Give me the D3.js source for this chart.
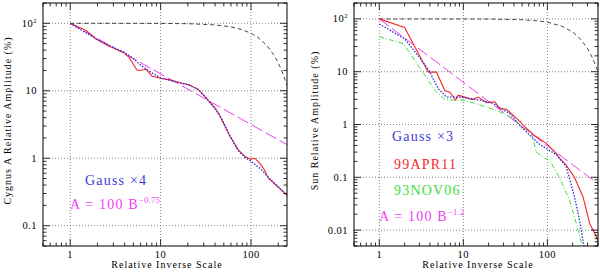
<!DOCTYPE html>
<html>
<head>
<meta charset="utf-8">
<script src="https://cdn.jsdelivr.net/npm/d3@7"></script>
<style>
  body { margin: 0; background: #fff; }
  svg { display: block; }
  text { font-family: "Liberation Serif", "DejaVu Serif", serif; }
</style>
</head>
<body>
<svg id="chart" width="600" height="274"></svg>
<script>
// ---- left panel: Cygnus A ----
const cyg_data_B = [1, 1.5, 1.89, 2.5, 3, 3.88, 4.5, 5.46, 5.9, 6.9, 8, 9.9, 12.7, 16, 21, 26, 32, 40, 45, 52, 58.6, 63, 72.4, 86, 98, 110, 125, 140, 155, 192, 238, 250];
const cyg_data_A = [100, 78, 60, 48, 43, 37, 31, 20.3, 20, 20.8, 16.6, 15.3, 14.5, 13.3, 12.2, 10.5, 7.8, 5.6, 4.3, 2.9, 2.1, 1.8, 1.33, 1.06, 0.97, 1.0, 0.84, 0.68, 0.51, 0.39, 0.30, 0.29];
const cyg_gauss_B = [1, 2, 3, 4, 5, 6, 8, 10, 15, 20, 26, 32, 45, 58, 72, 86, 100, 130, 160, 200, 250];
const cyg_gauss_A = [100, 57, 44, 37, 30, 24, 18.5, 15.5, 13.5, 12.3, 10.5, 7.8, 4.4, 2.2, 1.3, 1.02, 0.9, 0.68, 0.5, 0.38, 0.28];
const cyg_beam_B = [1, 10, 20, 40, 60, 80, 100, 120, 150, 180, 200, 220, 250];
const cyg_beam_A = [100, 99.7, 98.7, 94.7, 88.5, 80.5, 71, 61.5, 46.8, 33.5, 25.9, 19.5, 12];
const cyg_power_B = [1, 250];
const cyg_power_A = [100, 1.59];

// ---- right panel: Sun ----
const sun_apr_B = [1, 2, 3.83, 4.8, 6, 6.9, 8.1, 8.7, 10.4, 13, 15, 18.9, 23.7, 27, 32.6, 39, 46.8, 56, 70, 97, 128, 139, 167, 210, 265, 318, 380, 400];
const sun_apr_A = [100, 69, 9.8, 9.8, 4.4, 4.1, 2.9, 3.6, 3.3, 2.96, 3.3, 2.6, 2.7, 2.0, 1.95, 1.5, 1.15, 0.85, 0.62, 0.44, 0.28, 0.23, 0.17, 0.10, 0.043, 0.0135, 0.0076, 0.006];
const sun_nov_B = [1, 1.93, 3.19, 4.6, 6, 7.6, 10, 14, 18.7, 27, 39, 42.8, 51, 64, 74, 92.6, 106, 139, 184, 220, 254, 275];
const sun_nov_A = [46, 34, 10.6, 4.4, 3.0, 2.9, 2.9, 2.5, 2.15, 1.73, 1.3, 1.12, 0.84, 0.72, 0.30, 0.23, 0.21, 0.10, 0.037, 0.0135, 0.0057, 0.004];
const sun_gauss_B = [1, 2, 3, 4, 5, 6.3, 9, 15.7, 22.6, 35.7, 46.8, 61.6, 81, 100, 128, 167, 210, 240, 268, 285];
const sun_gauss_A = [80, 42, 18.8, 9.8, 4.8, 3.3, 3.3, 2.9, 2.5, 1.61, 0.97, 0.63, 0.42, 0.34, 0.27, 0.16, 0.043, 0.016, 0.0057, 0.004];
const sun_beam_B = [1, 20, 50, 80, 100, 150, 200, 250, 300, 350, 400];
const sun_beam_A = [100, 99.4, 96.5, 91.2, 86.6, 72.4, 56.3, 40.8, 27.5, 17.2, 10];
const sun_power_B = [1, 400];
const sun_power_A = [100, 0.075];

// ---- tick labels ----
const x_tick_values = [1, 10, 100];
const x_tick_labels = ["1", "10", "100"];
const cyg_y_tick_values = [100, 10, 1, 0.1];
const sun_y_tick_values = [100, 10, 1, 0.1, 0.01];
const y_tick_labels = {100: ["10", "2"], 10: ["10"], 1: ["1"], 0.1: ["0.1"], 0.01: ["0.01"]};

const COLORS = {
  red: "#f5262b",
  blue: "#2c2ed8",
  green: "#3ee03e",
  magenta: "#f03cf0",
  black: "#333"
};

const zip = (xs, ys) => xs.map((x, i) => [x, ys[i]]);

function draw_panel(svg, cfg) {
  const g = svg.append("g").classed("panel", true);
  const x = d3.scaleLog().domain(cfg.x_domain).range([cfg.left, cfg.right]);
  const y = d3.scaleLog().domain(cfg.y_domain).range([cfg.bottom, cfg.top]);

  const clip_id = `clip-${cfg.name}`;
  g.append("clipPath").attr("id", clip_id)
    .append("rect")
      .attr("x", cfg.left).attr("y", cfg.top)
      .attr("width", cfg.right - cfg.left).attr("height", cfg.bottom - cfg.top);

  // grid
  g.selectAll("line.xgrid")
    .data(x_tick_values)
    .join("line")
      .classed("xgrid", true)
      .attr("x1", d => x(d)).attr("x2", d => x(d))
      .attr("y1", cfg.top).attr("y2", cfg.bottom)
      .attr("stroke", "#666").attr("stroke-width", 0.8)
      .attr("stroke-dasharray", "1,2");
  g.selectAll("line.ygrid")
    .data(cfg.y_ticks)
    .join("line")
      .classed("ygrid", true)
      .attr("y1", d => y(d)).attr("y2", d => y(d))
      .attr("x1", cfg.left).attr("x2", cfg.right)
      .attr("stroke", "#666").attr("stroke-width", 0.8)
      .attr("stroke-dasharray", "1,2");

  // curves
  const line = d3.line().x(d => x(d[0])).y(d => y(d[1]));
  const curves = g.append("g").attr("clip-path", `url(#${clip_id})`);
  curves.selectAll("path")
    .data(cfg.series)
    .join("path")
      .attr("d", d => line(d.points))
      .attr("fill", "none")
      .attr("stroke", d => d.color)
      .attr("stroke-width", d => d.width || 1)
      .attr("stroke-dasharray", d => d.dash || null);

  // frame
  g.append("rect")
    .attr("x", cfg.left).attr("y", cfg.top)
    .attr("width", cfg.right - cfg.left).attr("height", cfg.bottom - cfg.top)
    .attr("fill", "none").attr("stroke", "#000").attr("stroke-width", 1);

  // inward ticks on all sides
  const is_major = v => Math.abs(Math.log10(v) - Math.round(Math.log10(v))) < 1e-6;
  const xt = x.ticks().filter(v => v >= cfg.x_domain[0] && v <= cfg.x_domain[1]);
  const yt = y.ticks().filter(v => v >= cfg.y_domain[0] && v <= cfg.y_domain[1]);
  const ticks = g.append("g").attr("stroke", "#000").attr("stroke-width", 0.8);
  for (const [yy, dir] of [[cfg.bottom, -1], [cfg.top, 1]]) {
    ticks.selectAll(null)
      .data(xt)
      .join("line")
        .attr("x1", d => x(d)).attr("x2", d => x(d))
        .attr("y1", yy).attr("y2", d => yy + dir * (is_major(d) ? 7 : 3.5));
  }
  for (const [xx, dir] of [[cfg.left, 1], [cfg.right, -1]]) {
    ticks.selectAll(null)
      .data(yt)
      .join("line")
        .attr("y1", d => y(d)).attr("y2", d => y(d))
        .attr("x1", xx).attr("x2", d => xx + dir * (is_major(d) ? 7 : 3.5));
  }

  // tick labels
  g.selectAll("text.xlab")
    .data(x_tick_values)
    .join("text")
      .classed("xlab", true)
      .attr("x", (d, i) => x(d)).attr("y", cfg.bottom + 12)
      .attr("text-anchor", "middle")
      .attr("font-size", 10.5).attr("letter-spacing", 0.5)
      .text((d, i) => x_tick_labels[i]);
  const ylab = g.selectAll("text.ylab")
    .data(cfg.y_ticks)
    .join("text")
      .classed("ylab", true)
      .attr("x", cfg.left - 6).attr("y", d => y(d) + 3.5)
      .attr("text-anchor", "end")
      .attr("font-size", 10.5).attr("letter-spacing", 0.5);
  ylab.each(function(d) {
    const parts = y_tick_labels[d];
    const t = d3.select(this);
    t.append("tspan").text(parts[0]);
    if (parts[1]) t.append("tspan").attr("dy", -4).attr("font-size", 6.5).text(parts[1]);
  });

  // axis titles
  g.append("text")
    .attr("x", (cfg.left + cfg.right) / 2 + 2).attr("y", 268)
    .attr("text-anchor", "middle")
    .attr("font-size", 10).attr("letter-spacing", 1)
    .text("Relative Inverse Scale");
  g.append("text")
    .attr("transform", `translate(${cfg.ylabel_x},${(cfg.top + cfg.bottom) / 2 - 4}) rotate(-90)`)
    .attr("text-anchor", "middle")
    .attr("font-size", 10).attr("letter-spacing", 1)
    .text(cfg.ylabel);

  // annotations
  for (const a of cfg.notes) {
    const t = g.append("text")
      .attr("x", a.x).attr("y", a.y)
      .attr("fill", a.color)
      .attr("font-size", 14).attr("letter-spacing", 1.2);
    t.append("tspan").text(a.text);
    if (a.sup) t.append("tspan").attr("dy", -6).attr("font-size", 8.5).attr("letter-spacing", 0.3).text(a.sup);
  }
  return g;
}

const svg = d3.select("#chart");

draw_panel(svg, {
  name: "cyg",
  left: 43, right: 287, top: 3, bottom: 246,
  x_domain: [0.5, 250],
  y_domain: [0.05, 200],
  y_ticks: cyg_y_tick_values,
  ylabel: "Cygnus A Relative Amplitude (%)",
  ylabel_x: 11,
  series: [
    {points: zip(cyg_beam_B, cyg_beam_A), color: COLORS.black, dash: "4,3", width: 0.9},
    {points: zip(cyg_power_B, cyg_power_A), color: COLORS.magenta, dash: "12,4", width: 1},
    {points: zip(cyg_data_B, cyg_data_A), color: COLORS.red, width: 1.1},
    {points: zip(cyg_gauss_B, cyg_gauss_A), color: COLORS.blue, dash: "1.5,1.5", width: 1.3}
  ],
  notes: [
    {x: 85, y: 185, text: "Gauss \u00d74", color: "#3b3bd6"},
    {x: 70, y: 209, text: "A = 100 B", sup: "\u22120.75", color: COLORS.magenta}
  ]
});

draw_panel(svg, {
  name: "sun",
  left: 354, right: 598, top: 3, bottom: 246,
  x_domain: [0.5, 400],
  y_domain: [0.005, 200],
  y_ticks: sun_y_tick_values,
  ylabel: "Sun Relative Amplitude (%)",
  ylabel_x: 318,
  series: [
    {points: zip(sun_beam_B, sun_beam_A), color: COLORS.black, dash: "4,3", width: 0.9},
    {points: zip(sun_power_B, sun_power_A), color: COLORS.magenta, dash: "12,4", width: 1},
    {points: zip(sun_nov_B, sun_nov_A), color: COLORS.green, dash: "5,2,1,2", width: 1},
    {points: zip(sun_apr_B, sun_apr_A), color: COLORS.red, width: 1.1},
    {points: zip(sun_gauss_B, sun_gauss_A), color: COLORS.blue, dash: "1.5,1.5", width: 1.3}
  ],
  notes: [
    {x: 392, y: 141, text: "Gauss \u00d73", color: "#3b3bd6"},
    {x: 394, y: 169, text: "99APR11", color: COLORS.red},
    {x: 394, y: 195, text: "93NOV06", color: COLORS.green},
    {x: 379, y: 221, text: "A = 100 B", sup: "\u22121.2", color: COLORS.magenta}
  ]
});
</script>
</body>
</html>
